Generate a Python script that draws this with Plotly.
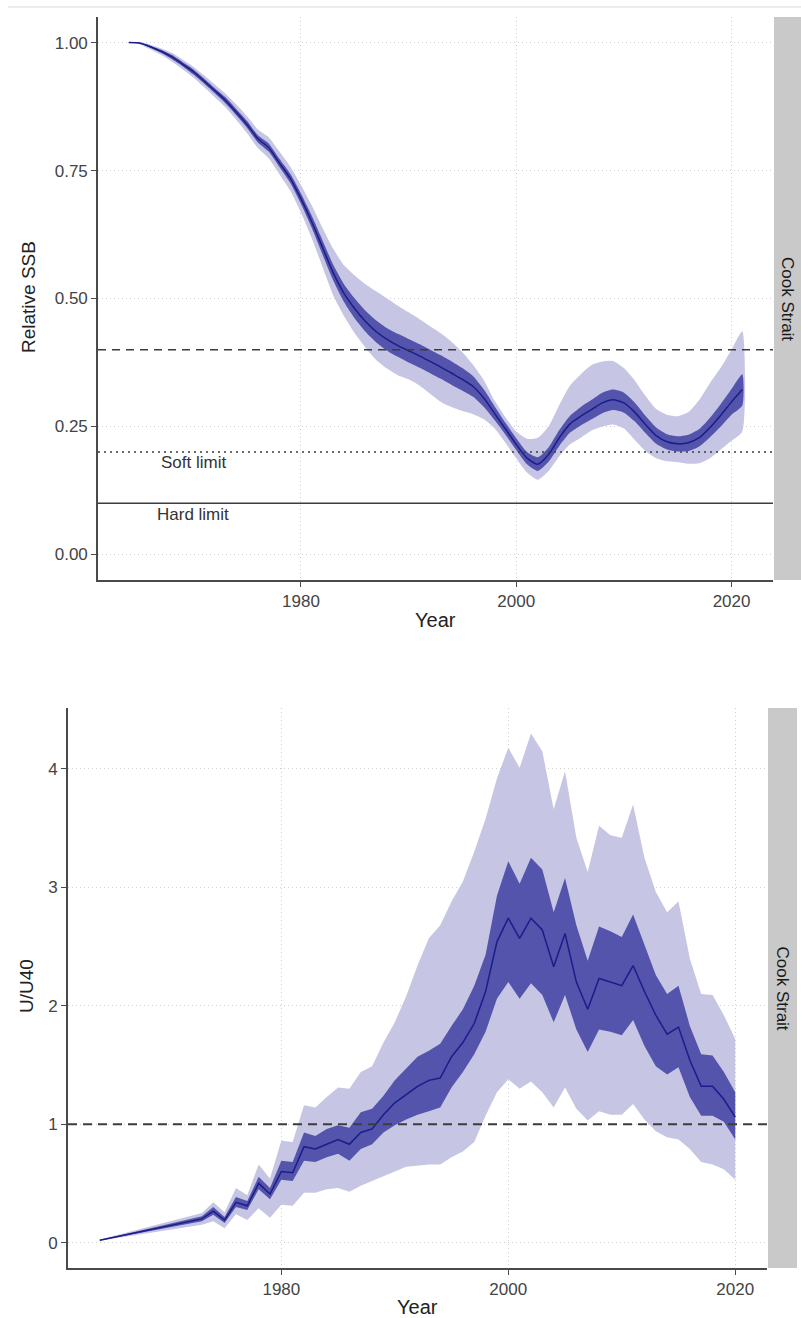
import plotly.graph_objects as go

# ---------------- Relative SSB (Cook Strait) ----------------
ssb_years = list(range(1964, 2022))
ssb_median = [1.000, 0.999, 0.992, 0.983, 0.972, 0.958, 0.943, 0.925, 0.906, 0.887,
              0.864, 0.840, 0.812, 0.795, 0.765, 0.735, 0.695, 0.650, 0.600, 0.550,
              0.510, 0.480, 0.455, 0.435, 0.420, 0.408, 0.398, 0.388, 0.377, 0.366,
              0.354, 0.342, 0.328, 0.305, 0.275, 0.245, 0.215, 0.188, 0.176, 0.195,
              0.228, 0.255, 0.270, 0.283, 0.296, 0.302, 0.296, 0.278, 0.254, 0.232,
              0.220, 0.216, 0.218, 0.228, 0.248, 0.272, 0.298, 0.322]
ssb_lo50 = [1.000, 0.998, 0.990, 0.980, 0.968, 0.954, 0.938, 0.920, 0.901, 0.881,
            0.858, 0.833, 0.805, 0.787, 0.757, 0.726, 0.685, 0.638, 0.586, 0.535,
            0.493, 0.461, 0.435, 0.414, 0.398, 0.386, 0.375, 0.365, 0.354, 0.343,
            0.331, 0.320, 0.308, 0.288, 0.262, 0.234, 0.204, 0.176, 0.163, 0.181,
            0.212, 0.238, 0.252, 0.264, 0.276, 0.282, 0.277, 0.260, 0.237, 0.216,
            0.205, 0.201, 0.202, 0.211, 0.229, 0.250, 0.273, 0.291]
ssb_hi50 = [1.000, 1.000, 0.994, 0.986, 0.976, 0.962, 0.948, 0.930, 0.911, 0.893,
            0.870, 0.847, 0.819, 0.803, 0.773, 0.744, 0.705, 0.662, 0.614, 0.566,
            0.528, 0.500, 0.476, 0.457, 0.442, 0.431, 0.421, 0.411, 0.400, 0.389,
            0.377, 0.364, 0.348, 0.322, 0.289, 0.257, 0.227, 0.200, 0.190, 0.209,
            0.243, 0.271, 0.288, 0.302, 0.316, 0.322, 0.316, 0.297, 0.271, 0.248,
            0.235, 0.231, 0.234, 0.245, 0.267, 0.294, 0.323, 0.352]
ssb_lo95 = [1.000, 0.997, 0.987, 0.976, 0.963, 0.948, 0.932, 0.913, 0.893, 0.873,
            0.849, 0.823, 0.794, 0.774, 0.743, 0.711, 0.668, 0.618, 0.562, 0.506,
            0.466, 0.432, 0.404, 0.380, 0.363, 0.350, 0.342, 0.330, 0.314, 0.298,
            0.288, 0.280, 0.274, 0.264, 0.246, 0.218, 0.188, 0.160, 0.146, 0.163,
            0.192, 0.215, 0.228, 0.242, 0.250, 0.254, 0.246, 0.224, 0.202, 0.188,
            0.182, 0.180, 0.177, 0.178, 0.188, 0.205, 0.222, 0.240]
ssb_hi95 = [1.000, 1.001, 0.996, 0.989, 0.980, 0.967, 0.953, 0.936, 0.918, 0.900,
            0.879, 0.856, 0.830, 0.815, 0.787, 0.758, 0.722, 0.682, 0.638, 0.597,
            0.565, 0.545, 0.528, 0.514, 0.500, 0.486, 0.473, 0.460, 0.446, 0.432,
            0.415, 0.395, 0.370, 0.340, 0.300, 0.268, 0.240, 0.226, 0.228, 0.250,
            0.292, 0.330, 0.352, 0.370, 0.377, 0.378, 0.364, 0.340, 0.310, 0.284,
            0.273, 0.270, 0.278, 0.302, 0.335, 0.365, 0.400, 0.436]

ssb_ticks = [0.0, 0.25, 0.5, 0.75, 1.0]
target_ref = 0.4
soft_limit = 0.2
hard_limit = 0.1

# ---------------- U/U40 (Cook Strait) ----------------
u_years = list(range(1964, 2021))
u_median = [0.02, 0.04, 0.06, 0.08, 0.10, 0.12, 0.14, 0.16, 0.18, 0.20,
            0.265, 0.19, 0.34, 0.31, 0.50, 0.41, 0.60, 0.59, 0.81, 0.79,
            0.83, 0.87, 0.83, 0.93, 0.96, 1.08, 1.18, 1.25, 1.32, 1.37,
            1.39, 1.57, 1.69, 1.85, 2.12, 2.54, 2.74, 2.57, 2.74, 2.64,
            2.33, 2.61, 2.20, 1.97, 2.23, 2.20, 2.17, 2.34, 2.12, 1.92,
            1.76, 1.82, 1.54, 1.32, 1.32, 1.21, 1.06]
u_lo50 = [0.018, 0.036, 0.054, 0.072, 0.090, 0.108, 0.126, 0.144, 0.162, 0.180,
          0.235, 0.165, 0.300, 0.275, 0.450, 0.365, 0.530, 0.520, 0.690, 0.680,
          0.720, 0.750, 0.690, 0.790, 0.830, 0.930, 0.990, 1.040, 1.080, 1.110,
          1.140, 1.310, 1.440, 1.590, 1.780, 2.060, 2.200, 2.060, 2.190, 2.090,
          1.860, 2.090, 1.800, 1.610, 1.800, 1.780, 1.750, 1.880, 1.660, 1.490,
          1.420, 1.480, 1.230, 1.070, 1.070, 1.020, 0.870]
u_hi50 = [0.022, 0.044, 0.066, 0.088, 0.110, 0.132, 0.154, 0.176, 0.198, 0.222,
          0.300, 0.215, 0.385, 0.350, 0.555, 0.460, 0.690, 0.680, 0.930, 0.900,
          0.960, 0.990, 0.970, 1.100, 1.130, 1.240, 1.370, 1.470, 1.570, 1.620,
          1.680, 1.830, 1.970, 2.170, 2.430, 2.930, 3.220, 3.030, 3.250, 3.150,
          2.790, 3.080, 2.680, 2.380, 2.670, 2.630, 2.580, 2.770, 2.510, 2.260,
          2.100, 2.170, 1.830, 1.590, 1.580, 1.440, 1.270]
u_lo95 = [0.015, 0.030, 0.045, 0.060, 0.075, 0.090, 0.105, 0.120, 0.135, 0.150,
          0.180, 0.120, 0.240, 0.190, 0.290, 0.210, 0.320, 0.310, 0.420, 0.420,
          0.450, 0.460, 0.430, 0.480, 0.520, 0.560, 0.600, 0.640, 0.650, 0.660,
          0.660, 0.720, 0.770, 0.850, 1.070, 1.270, 1.380, 1.300, 1.360, 1.270,
          1.140, 1.310, 1.130, 1.030, 1.110, 1.080, 1.080, 1.170, 1.040, 0.940,
          0.890, 0.870, 0.790, 0.680, 0.660, 0.620, 0.530]
u_hi95 = [0.025, 0.050, 0.075, 0.100, 0.125, 0.150, 0.175, 0.200, 0.225, 0.250,
          0.340, 0.255, 0.460, 0.400, 0.660, 0.540, 0.860, 0.850, 1.160, 1.140,
          1.230, 1.310, 1.300, 1.440, 1.490, 1.690, 1.860, 2.080, 2.340, 2.570,
          2.680, 2.880, 3.050, 3.300, 3.580, 3.920, 4.180, 4.010, 4.300, 4.150,
          3.660, 3.980, 3.420, 3.130, 3.520, 3.440, 3.420, 3.700, 3.250, 2.960,
          2.790, 2.880, 2.400, 2.100, 2.090, 1.920, 1.720]

u_ticks = [0, 1, 2, 3, 4]
u_ref = 1.0

year_ticks = [1980, 2000, 2020]
region = "Cook Strait"

# ---------------- styling ----------------
FONT = "Liberation Sans, Arial, Helvetica, sans-serif"
LIGHT = "rgb(198,198,228)"
DARK = "rgb(84,84,172)"
LINE = "rgb(28,28,138)"
AXIS = "#4a4a4a"
GRID = "#cfcfcf"
REF = "#3c3c3c"
STRIP = "#c9c9c9"

W, H = 801, 1318


def band(xs, lo, hi, color, xa, ya, shape="linear"):
    return go.Scatter(x=xs + xs[::-1], y=hi + lo[::-1], fill="toself",
                      fillcolor=color, line=dict(width=0, shape=shape, smoothing=0.6),
                      mode="lines", hoverinfo="skip", showlegend=False,
                      xaxis=xa, yaxis=ya)


fig = go.Figure()

# top panel: smooth biomass trajectory
fig.add_trace(band(ssb_years, ssb_lo95, ssb_hi95, LIGHT, "x", "y", "spline"))
fig.add_trace(band(ssb_years, ssb_lo50, ssb_hi50, DARK, "x", "y", "spline"))
fig.add_trace(go.Scatter(x=ssb_years, y=ssb_median, mode="lines",
                         line=dict(color=LINE, width=1.5, shape="spline", smoothing=0.6),
                         showlegend=False, xaxis="x", yaxis="y"))

# bottom panel: exploitation rate relative to U40
fig.add_trace(band(u_years, u_lo95, u_hi95, LIGHT, "x2", "y2"))
fig.add_trace(band(u_years, u_lo50, u_hi50, DARK, "x2", "y2"))
fig.add_trace(go.Scatter(x=u_years, y=u_median, mode="lines",
                         line=dict(color=LINE, width=1.5), showlegend=False,
                         xaxis="x2", yaxis="y2"))

# panel placement in pixels
top_px = dict(left=98, right=773, top=17, bottom=580)
bot_px = dict(left=68, right=767, top=708, bottom=1268)


def dom_x(p):
    return [p["left"] / W, p["right"] / W]


def dom_y(p):
    return [1 - p["bottom"] / H, 1 - p["top"] / H]


axis_common = dict(
    showline=True, linecolor=AXIS, linewidth=1.6,
    ticks="outside", ticklen=5, tickcolor=AXIS, tickwidth=1.3,
    tickfont=dict(family=FONT, size=17, color="#444444"),
    showgrid=True, gridcolor=GRID, gridwidth=1, griddash="1px,3px",
    zeroline=False, mirror=False,
)

fig.update_layout(
    width=W, height=H,
    margin=dict(l=0, r=0, t=0, b=0),
    paper_bgcolor="white", plot_bgcolor="white",
    showlegend=False,
    font=dict(family=FONT, color="#222"),
    xaxis=dict(axis_common, domain=dom_x(top_px), range=[1961.15, 2023.85],
               tickvals=year_ticks, anchor="y"),
    yaxis=dict(axis_common, domain=dom_y(top_px), range=[-0.05, 1.05],
               tickvals=ssb_ticks, tickformat=".2f", anchor="x"),
    xaxis2=dict(axis_common, domain=dom_x(bot_px), range=[1961.2, 2022.8],
                tickvals=year_ticks, anchor="y2"),
    yaxis2=dict(axis_common, domain=dom_y(bot_px), range=[-0.215, 4.515],
                tickvals=u_ticks, anchor="x2"),
)

shapes = []
# reference lines, top panel
shapes.append(dict(type="line", xref="x domain", yref="y", x0=0, x1=1,
                   y0=target_ref, y1=target_ref,
                   line=dict(color=REF, width=1.5, dash="8px,6px")))
shapes.append(dict(type="line", xref="x domain", yref="y", x0=0, x1=1,
                   y0=soft_limit, y1=soft_limit,
                   line=dict(color=REF, width=1.5, dash="2px,4px")))
shapes.append(dict(type="line", xref="x domain", yref="y", x0=0, x1=1,
                   y0=hard_limit, y1=hard_limit,
                   line=dict(color=REF, width=1.5)))
# reference line, bottom panel
shapes.append(dict(type="line", xref="x2 domain", yref="y2", x0=0, x1=1,
                   y0=u_ref, y1=u_ref,
                   line=dict(color=REF, width=2, dash="9px,6px")))

# facet strips
shapes.append(dict(type="rect", xref="paper", yref="paper",
                   x0=774 / W, x1=801 / W, y0=dom_y(top_px)[0], y1=dom_y(top_px)[1],
                   fillcolor=STRIP, line=dict(width=0), layer="below"))
shapes.append(dict(type="rect", xref="paper", yref="paper",
                   x0=768 / W, x1=797 / W, y0=dom_y(bot_px)[0], y1=dom_y(bot_px)[1],
                   fillcolor=STRIP, line=dict(width=0), layer="below"))
# thin rule along the top edge
shapes.append(dict(type="line", xref="paper", yref="paper",
                   x0=8 / W, x1=1, y0=1 - 7 / H, y1=1 - 7 / H,
                   line=dict(color="#e6e6e6", width=1.5)))

fig.update_layout(shapes=shapes)

annotations = [
    # limit labels
    dict(x=1970, y=0.18, xref="x", yref="y", text="Soft limit", showarrow=False,
         font=dict(family=FONT, size=17, color="#333"), xanchor="center", yanchor="middle"),
    dict(x=1970, y=0.078, xref="x", yref="y", text="Hard limit", showarrow=False,
         font=dict(family=FONT, size=17, color="#333"), xanchor="center", yanchor="middle"),
    # axis titles
    dict(x=435 / W, y=1 - 620 / H, xref="paper", yref="paper", text="Year",
         showarrow=False, font=dict(family=FONT, size=20, color="#222"),
         xanchor="center", yanchor="middle"),
    dict(x=417 / W, y=1 - 1307 / H, xref="paper", yref="paper", text="Year",
         showarrow=False, font=dict(family=FONT, size=20, color="#222"),
         xanchor="center", yanchor="middle"),
    dict(x=29 / W, y=1 - 297 / H, xref="paper", yref="paper", text="Relative SSB",
         showarrow=False, textangle=-90, font=dict(family=FONT, size=19, color="#222"),
         xanchor="center", yanchor="middle"),
    dict(x=27 / W, y=1 - 986 / H, xref="paper", yref="paper", text="U/U40",
         showarrow=False, textangle=-90, font=dict(family=FONT, size=19, color="#222"),
         xanchor="center", yanchor="middle"),
    # strip labels
    dict(x=787.5 / W, y=sum(dom_y(top_px)) / 2, xref="paper", yref="paper",
         text=region, showarrow=False, textangle=90,
         font=dict(family=FONT, size=17, color="#1a1a1a"),
         xanchor="center", yanchor="middle"),
    dict(x=782.5 / W, y=sum(dom_y(bot_px)) / 2, xref="paper", yref="paper",
         text=region, showarrow=False, textangle=90,
         font=dict(family=FONT, size=17, color="#1a1a1a"),
         xanchor="center", yanchor="middle"),
]
fig.update_layout(annotations=annotations)

fig.write_html("out.html")
